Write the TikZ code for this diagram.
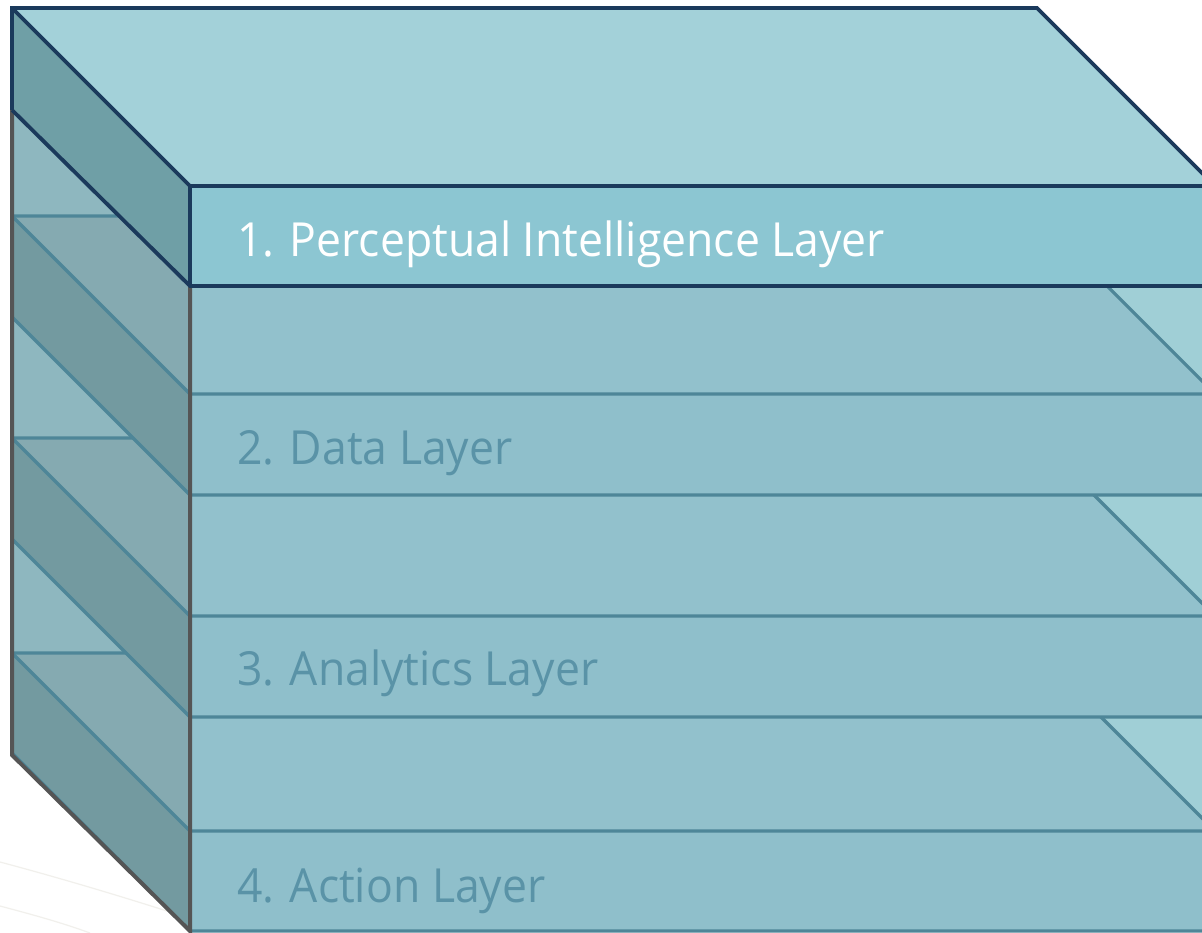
\documentclass[tikz,border=0pt]{standalone}
\usepackage{fontspec}
\setmainfont{Open Sans}
\definecolor{bgl}{HTML}{A0CFD6}
\definecolor{bgtint}{HTML}{8EB7BF}
\definecolor{topf}{HTML}{92C1CC}
\definecolor{topl}{HTML}{85AAB1}
\definecolor{sidef}{HTML}{739AA0}
\definecolor{frontf}{HTML}{8FBFCB}
\definecolor{ltop}{HTML}{A3D1D9}
\definecolor{lside}{HTML}{6F9FA6}
\definecolor{lfront}{HTML}{8CC6D2}
\definecolor{navy}{HTML}{1B3A5C}
\definecolor{teal}{HTML}{4E8698}
\definecolor{edge}{HTML}{555555}
\definecolor{txt}{HTML}{5A93A7}
\definecolor{faint}{HTML}{F1F0EC}
\newcommand{\lbltext}[1]{\scalebox{0.947}[1]{#1}}
\tikzset{
  tealline/.style={draw=teal,line width=3.2pt,line join=miter},
  navyline/.style={draw=navy,line width=3.8pt,line join=miter},
  edgeline/.style={draw=edge,line width=4pt,line join=miter},
  lbl/.style={anchor=base west,inner sep=0pt,font=\fontsize{47}{56}\selectfont},
}
\begin{document}
\begin{tikzpicture}[x=1pt,y=-1pt]
\useasboundingbox (0,0) rectangle (1202,933);
\clip (0,0) rectangle (1202,933);
\fill[white] (0,0) rectangle (1202,933);
% faint background lines
\draw[faint,line width=1.2pt] (0,862) .. controls (60,878) and (120,896) .. (170,912);
\draw[faint,line width=1.2pt] (0,906) .. controls (30,914) and (60,922) .. (90,933);
% background hull
\fill[bgl] (12,8) -- (1037,8) -- (1215,186) -- (1215,931) -- (190,931) -- (12,755) -- cycle;
\fill[bgtint] (12,8) -- (190,186) -- (190,931) -- (12,755) -- cycle;
% lower layers, bottom first
\foreach \t/\b in {831/931, 616/717, 394/495}{
  \pgfmathsetmacro{\tb}{\t-178}
  \pgfmathsetmacro{\bb}{\b-178}
  \fill[topf] (12,\tb) -- (1037,\tb) -- (1215,\t) -- (190,\t) -- cycle;
  \fill[topl] (12,\tb) -- (190,\tb) -- (190,\t) -- cycle;
  \fill[sidef] (12,\tb) -- (190,\t) -- (190,\b) -- (12,\bb) -- cycle;
  \fill[frontf] (190,\t) rectangle (1215,\b);
  \draw[tealline] (12,\tb) -- (1037,\tb) -- (1215,\t);
  \draw[tealline] (12,\tb) -- (190,\t) -- (1215,\t);
  \draw[tealline] (12,\bb) -- (190,\b) -- (1215,\b);
}
% outer grey edges
\draw[edgeline] (12,100) -- (12,755) -- (190,931) -- (190,286);
% top layer
\fill[ltop] (12,8) -- (1037,8) -- (1215,186) -- (190,186) -- cycle;
\fill[lside] (12,8) -- (190,186) -- (190,286) -- (12,110) -- cycle;
\fill[lfront] (190,186) rectangle (1215,286);
\draw[navyline] (12,110) -- (12,8) -- (1037,8) -- (1215,186);
\draw[navyline] (12,8) -- (190,186) -- (1215,186);
\draw[navyline] (12,110) -- (190,286) -- (1215,286);
\draw[navyline] (190,186) -- (190,286);
% labels
\node[lbl,text=white] (l1) at (237,257) {\lbltext{1. Perceptual Intelligence Layer}};
\node[lbl,text=txt] (l2) at (237,464) {\lbltext{2. Data Layer}};
\node[lbl,text=txt] (l3) at (237,685) {\lbltext{3. Analytics Layer}};
\node[lbl,text=txt] (l4) at (237,902) {\lbltext{4. Action Layer}};
\end{tikzpicture}
\end{document}
